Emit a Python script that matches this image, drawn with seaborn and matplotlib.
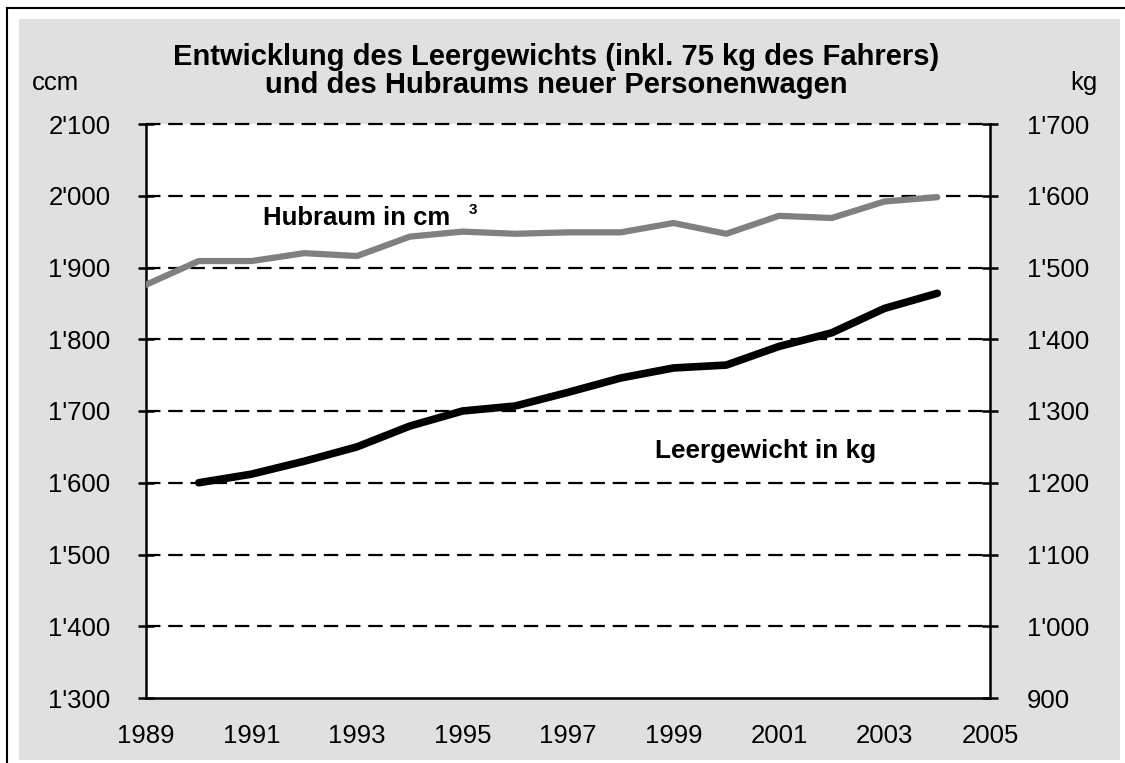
import matplotlib
matplotlib.use("Agg")
import matplotlib.pyplot as plt
import seaborn as sns
import pandas as pd
from matplotlib.patches import Rectangle
from matplotlib.ticker import FuncFormatter

sns.set_theme(style="white")
plt.rcParams['font.family'] = ['Liberation Sans', 'DejaVu Sans']
plt.rcParams['text.color'] = 'black'

years_hub = [1989, 1990, 1991, 1992, 1993, 1994, 1995, 1996, 1997, 1998, 1999, 2000, 2001, 2002, 2003, 2004]
hubraum = [1876, 1909, 1909, 1920, 1916, 1943, 1950, 1947, 1949, 1949, 1962, 1947, 1972, 1969, 1992, 1998]
years_kg = [1990, 1991, 1992, 1993, 1994, 1995, 1996, 1997, 1998, 1999, 2000, 2001, 2002, 2003, 2004]
leergewicht = [1200, 1212, 1230, 1250, 1279, 1300, 1307, 1326, 1346, 1360, 1364, 1390, 1409, 1443, 1464]
left_ticks = [1300, 1400, 1500, 1600, 1700, 1800, 1900, 2000, 2100]
right_ticks = [900, 1000, 1100, 1200, 1300, 1400, 1500, 1600, 1700]
title_lines = ["Entwicklung des Leergewichts (inkl. 75 kg des Fahrers)",
               "und des Hubraums neuer Personenwagen"]

W, H = 1125, 763
fig = plt.figure(figsize=(W / 100, H / 100), dpi=100)
fig.patch.set_facecolor("white")
# grey background panel and outer border
fig.add_artist(Rectangle((19 / W, 1 - 760 / H), (1120 - 19) / W, (760 - 19) / H,
                         transform=fig.transFigure, facecolor="#e0e0e0", edgecolor="none", zorder=0))
fig.add_artist(Rectangle((7 / W, -0.05), 1.2, 1 - 8 / H + 0.05,
                         transform=fig.transFigure, facecolor="none", edgecolor="black", lw=1.5, zorder=1))

ax = fig.add_axes([146 / W, 1 - 698 / H, (990 - 146) / W, (698 - 124) / H])
ax.set_facecolor("white")
ax2 = ax.twinx()

df_h = pd.DataFrame({"Jahr": years_hub, "Wert": hubraum})
df_k = pd.DataFrame({"Jahr": years_kg, "Wert": leergewicht})

ax.set_ylim(1300, 2100)
ax2.set_ylim(900, 1700)
ax.set_xlim(1989, 2005)

for y in left_ticks[1:]:
    ax.axhline(y, color="black", lw=1.6, ls=(0, (6.5, 3.5)), zorder=1, clip_on=False)

sns.lineplot(data=df_h, x="Jahr", y="Wert", ax=ax, color="#808080", lw=4.5, zorder=3)
sns.lineplot(data=df_k, x="Jahr", y="Wert", ax=ax2, color="black", lw=5.5, zorder=3,
             solid_capstyle="round")

fmt = FuncFormatter(lambda v, p: f"{int(v):,}".replace(",", "'"))
ax.set_yticks(left_ticks)
ax2.set_yticks(right_ticks)
ax.yaxis.set_major_formatter(fmt)
ax2.yaxis.set_major_formatter(fmt)
ax.set_xticks(list(range(1989, 2006)))
ax.set_xticklabels([str(y) if y % 2 == 1 else "" for y in range(1989, 2006)])

for a in (ax, ax2):
    a.set_xlabel("")
    a.set_ylabel("")
    for s in a.spines.values():
        s.set_visible(False)
    a.tick_params(axis="both", direction="inout", length=11, width=1.8, color="black",
                  labelsize=18.5, labelcolor="black")
ax.spines["left"].set_visible(True)
ax.spines["bottom"].set_visible(True)
ax2.spines["right"].set_visible(True)
for s in ("left", "bottom"):
    ax.spines[s].set_linewidth(1.8)
    ax.spines[s].set_color("black")
ax2.spines["right"].set_linewidth(1.8)
ax2.spines["right"].set_color("black")
ax.tick_params(axis="y", right=False, left=True, pad=20)
ax2.tick_params(axis="y", right=True, left=False, pad=21)
ax.tick_params(axis="x", pad=13)
ax.grid(False)
ax2.grid(False)

fig.text(556 / W, 1 - 65 / H, title_lines[0], ha="center", va="baseline", fontsize=21,
         fontweight="bold", color="black")
fig.text(556 / W, 1 - 93 / H, title_lines[1], ha="center", va="baseline", fontsize=21,
         fontweight="bold", color="black")
fig.text(32 / W, 1 - 83 / H, "ccm", ha="left", va="center", fontsize=18.5, color="black")
fig.text(1098 / W, 1 - 83 / H, "kg", ha="right", va="center", fontsize=18.5, color="black")
ax.text(1991.22, 1959, "Hubraum in cm", ha="left", va="baseline", fontsize=18.5,
        fontweight="bold", color="black")
ax.text(1995.12, 1974, "3", ha="left", va="baseline", fontsize=11, fontweight="bold", color="black")
ax2.text(1998.65, 1234, "Leergewicht in kg", ha="left", va="baseline", fontsize=18.8,
         fontweight="bold", color="black")

fig.savefig("out.png", dpi=100)
